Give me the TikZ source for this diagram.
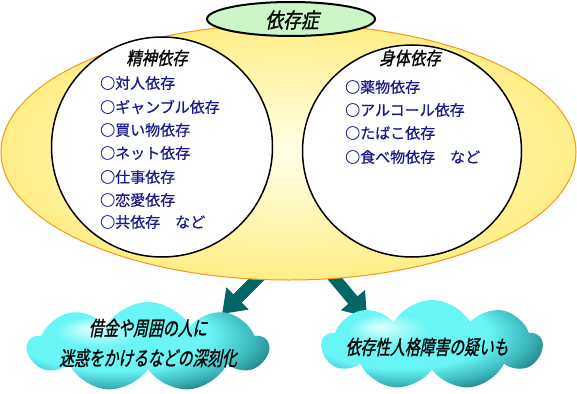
\documentclass[tikz,border=0pt]{standalone}
\usepackage{fontspec}
\setmainfont{Noto Sans CJK JP}
\newfontfamily\jp[FakeBold=0.5]{Noto Sans CJK JP}
\newfontfamily\jpsl[FakeSlant=0.2,FakeStretch=0.85,FakeBold=1]{Noto Sans CJK JP}
\newfontfamily\jpcl[FakeSlant=0.2,FakeStretch=0.74,FakeBold=1]{Noto Sans CJK JP}
\usetikzlibrary{shapes.geometric,shapes.symbols,arrows.meta}
\definecolor{navyitem}{RGB}{25,25,140}
\definecolor{arrowteal}{RGB}{0,102,102}
\definecolor{paleyel}{RGB}{255,255,232}
\definecolor{deepyel}{RGB}{255,238,135}
\definecolor{ringorange}{RGB}{245,150,30}
\definecolor{capgreen}{RGB}{204,246,200}
\definecolor{cyhi}{RGB}{225,255,255}
\definecolor{cymid}{RGB}{105,245,245}
\definecolor{cyedge}{RGB}{60,185,190}
\definecolor{cydark}{RGB}{25,100,105}
\pgfdeclareradialshading{cloudshade}{\pgfpoint{-12bp}{10bp}}{%
  color(0bp)=(cyhi); color(9bp)=(cymid); color(20bp)=(cymid);
  color(27bp)=(cyedge); color(34bp)=(cydark); color(50bp)=(cydark)}
\tikzset{
  item/.style={anchor=west, inner sep=0pt, text=navyitem, font=\jp\fontsize{15}{15}\selectfont},
  circtitle/.style={inner sep=0pt, font=\jpsl\fontsize{18}{18}\selectfont},
  bubble/.style={ellipse, draw=black, line width=1.5pt, fill=white, inner sep=0pt},
  puff/.style={cloud, cloud puffs=9, cloud puff arc=120, aspect=2.8, inner sep=0pt, shading=cloudshade},
  cloudtext/.style={align=center, inner sep=0pt, font=\jpcl\fontsize{20}{30}\selectfont},
  bigarrow/.style={draw=arrowteal, line width=12pt, -{Triangle[width=30pt,length=22pt]}, arrowteal},
}
\begin{document}
\begin{tikzpicture}[x=1pt,y=-1pt]
\useasboundingbox (0,0) rectangle (577,393);
% arrows (drawn first, tails hidden under the big ellipse)
\coordinate (la0) at (268,268);
\coordinate (la1) at (222,314);
\coordinate (ra0) at (326,268);
\coordinate (ra1) at (367,317);
\draw[bigarrow] (la0) -- (la1);
\draw[bigarrow] (ra0) -- (ra1);
% big ellipse
\node[ellipse, minimum width=575pt, minimum height=256pt, inner sep=0pt,
      draw=ringorange, line width=1pt, inner color=paleyel, outer color=deepyel] (big) at (288.5,152) {};
% inner circles
\node[bubble, minimum width=221pt, minimum height=220pt] (left) at (162,147) {};
\node[bubble, minimum width=219pt, minimum height=212pt] (right) at (412,151) {};
% top label
\node[ellipse, draw=black, line width=2pt, fill=capgreen, minimum width=168pt, minimum height=34pt, inner sep=0pt] (cap) at (291,19) {};
\node[inner sep=0pt, font=\jpsl\fontsize{21}{21}\selectfont] (captext) at (292,20) {依存症};
% titles
\node[circtitle] (lt) at (157,58) {精神依存};
\node[circtitle] (rt) at (410,58) {身体依存};
% left items
\node[item] (l1) at (100,83) {○対人依存};
\node[item] (l2) at (100,107) {○ギャンブル依存};
\node[item] (l3) at (100,130) {○買い物依存};
\node[item] (l4) at (100,153) {○ネット依存};
\node[item] (l5) at (100,177) {○仕事依存};
\node[item] (l6) at (100,200) {○恋愛依存};
\node[item] (l7) at (100,222) {○共依存　など};
% right items
\node[item] (r1) at (345,87) {○薬物依存};
\node[item] (r2) at (345,110) {○アルコール依存};
\node[item] (r3) at (345,133) {○たばこ依存};
\node[item] (r4) at (345,157) {○食べ物依存　など};
% clouds
\node[puff, minimum width=240pt, minimum height=90pt] (cl) at (148,347) {};
\node[cloudtext] (clt) at (148,343) {借金や周囲の人に\\迷惑をかけるなどの深刻化};
\node[puff, minimum width=220pt, minimum height=90pt] (cr) at (432,345) {};
\node[cloudtext] (crt) at (427,347) {依存性人格障害の疑いも};
\end{tikzpicture}
\end{document}
